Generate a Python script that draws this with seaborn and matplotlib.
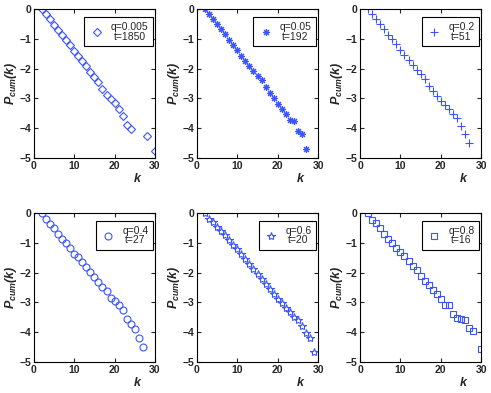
import numpy as np
import pandas as pd
import matplotlib
matplotlib.use("Agg")
import matplotlib.pyplot as plt
import seaborn as sns

# data, one list per panel
k1 = [2, 3, 4, 5, 6, 7, 8, 9, 10, 11, 12, 13, 14, 15, 16, 17, 18, 19, 20, 21, 22, 23, 24, 28, 30]
p1 = [0, -0.15, -0.33, -0.52, -0.7, -0.87, -1.05, -1.22, -1.4, -1.57, -1.75, -1.92, -2.1, -2.28,
      -2.45, -2.68, -2.88, -3.02, -3.15, -3.35, -3.6, -3.88, -4.03, -4.27, -4.75]

k2 = list(range(2, 28))
p2 = [0, -0.16, -0.33, -0.5, -0.67, -0.85, -1.05, -1.22, -1.39, -1.57, -1.75, -1.92, -2.09,
      -2.26, -2.39, -2.61, -2.81, -2.98, -3.18, -3.35, -3.53, -3.71, -3.76, -4.09, -4.2, -4.69]

k3 = list(range(2, 28))
p3 = [0, -0.16, -0.33, -0.5, -0.68, -0.86, -1.02, -1.19, -1.37, -1.53, -1.71, -1.88, -2.04,
      -2.19, -2.36, -2.57, -2.75, -2.93, -3.1, -3.21, -3.37, -3.51, -3.67, -3.91, -4.2, -4.5]

k4 = list(range(2, 28))
p4 = [0, -0.19, -0.36, -0.52, -0.69, -0.86, -1.02, -1.19, -1.36, -1.49, -1.66, -1.8, -1.97,
      -2.16, -2.32, -2.49, -2.61, -2.87, -2.97, -3.08, -3.27, -3.56, -3.72, -3.9, -4.2, -4.5]

k5 = list(range(2, 30))
p5 = [0, -0.2, -0.3, -0.47, -0.6, -0.75, -0.92, -1.08, -1.22, -1.38, -1.55, -1.72, -1.88, -2.05,
      -2.2, -2.38, -2.55, -2.72, -2.88, -3.02, -3.18, -3.33, -3.5, -3.6, -3.78, -4.03, -4.18, -4.65]

k6 = list(range(2, 29)) + [30]
p6 = [0, -0.24, -0.33, -0.52, -0.69, -0.86, -1.0, -1.17, -1.32, -1.44, -1.61, -1.78, -1.93,
      -2.11, -2.27, -2.43, -2.58, -2.72, -2.89, -3.08, -3.09, -3.38, -3.52, -3.56, -3.6, -3.86,
      -3.97, -4.58]

q_labels = ["q=0.005", "q=0.05", "q=0.2", "q=0.4", "q=0.6", "q=0.8"]
t_labels = ["t=1850", "t=192", "t=51", "t=27", "t=20", "t=16"]
markers = ["D", (8, 2, 0), "+", "o", "*", "s"]
msizes = [4.2, 5, 5.5, 5, 6, 4.5]
ks = [k1, k2, k3, k4, k5, k6]
ps = [p1, p2, p3, p4, p5, p6]

sns.set_theme(style="ticks")
plt.rcParams["font.family"] = ["Liberation Sans", "DejaVu Sans"]
plt.rcParams["mathtext.fontset"] = "custom"
plt.rcParams["mathtext.rm"] = "Liberation Sans:bold:italic"
plt.rcParams["mathtext.it"] = "Liberation Sans:bold:italic"

blue = "#3a55ff"

fig, axes = plt.subplots(2, 3, figsize=(4.91, 3.93), dpi=100)
plt.subplots_adjust(left=0.069, right=0.98, bottom=0.079, top=0.977, wspace=0.347, hspace=0.369)

for i, ax in enumerate(axes.flat):
    df = pd.DataFrame({"k": ks[i], "P": ps[i]})
    sns.lineplot(data=df, x="k", y="P", ax=ax, estimator=None, sort=False,
                 linestyle="", marker=markers[i], markersize=msizes[i],
                 color=blue, mec=blue, mfc="none", mew=0.8,
                 label=q_labels[i] + "\n" + t_labels[i])
    ax.set_xlim(0, 30)
    ax.set_ylim(-5, 0)
    ax.set_xticks([0, 10, 20, 30])
    ax.set_yticks([0, -1, -2, -3, -4, -5])
    ax.set_yticklabels(["0", "\u22121", "\u22122", "\u22123", "\u22124", "\u22125"])
    ax.tick_params(direction="in", length=3, width=0.8, top=True, right=True,
                   labelsize=7.5, pad=2)
    for lab in ax.get_xticklabels() + ax.get_yticklabels():
        lab.set_fontweight("bold")
    for s in ax.spines.values():
        s.set_linewidth(0.8)
        s.set_color("black")
    ax.set_xlabel("k", fontsize=9, fontweight="bold", fontstyle="italic")
    ax.xaxis.set_label_coords(0.85, -0.1)
    ax.set_ylabel("P$_{cum}$(k)", fontsize=9, fontweight="bold", fontstyle="italic")
    ax.yaxis.set_label_coords(-0.125, 0.5)
    leg = ax.legend(loc="upper right", bbox_to_anchor=(0.985, 0.945), borderaxespad=0,
                    fancybox=False, framealpha=1, edgecolor="black", fontsize=7.5,
                    handlelength=1.5, handletextpad=0.6, borderpad=0.45,
                    labelspacing=0.2)
    leg.get_frame().set_linewidth(0.8)
    for txt in leg.get_texts():
        txt.set_multialignment("center")
        txt.set_linespacing(0.95)

plt.savefig("out.png", dpi=100)
